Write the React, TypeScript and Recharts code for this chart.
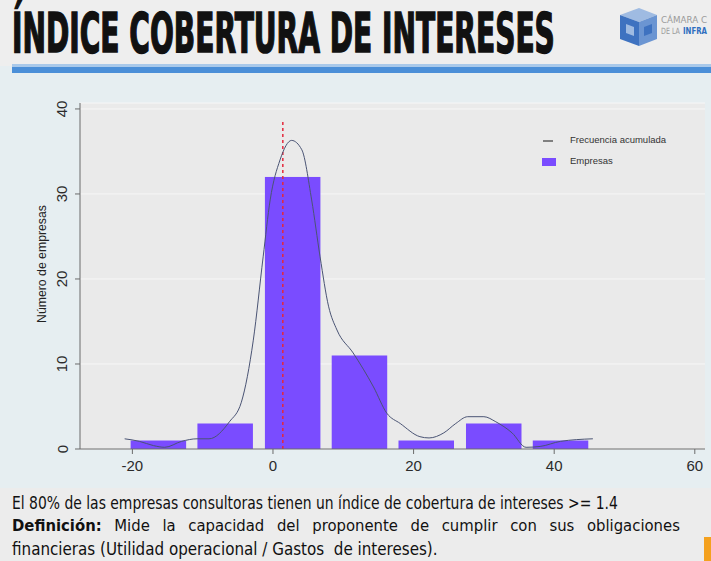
import React, { useLayoutEffect, useRef, useState } from 'react';
import {
  ComposedChart,
  Bar,
  Line,
  XAxis,
  YAxis,
  CartesianGrid,
  ReferenceLine,
  Legend,
} from 'recharts';

// histogram bins (centre of each bin) and number of companies
const binCenters = [-16.3, -6.8, 2.8, 12.3, 21.8, 31.4, 40.9];
const binCounts = [1, 3, 32, 11, 1, 3, 1];

// smoothed curve ("Frecuencia acumulada")
const curveX = [-21.1, -19, -17, -15.4, -13, -10.8, -9.1, -6.2, -4.5, -2.8, -1.4, -0.4, 1.0, 2.65, 4.1, 5.5, 6.7, 7.9, 9.1, 11.4, 14.3, 16.2, 18.1, 20.9, 22.2, 24.3, 26, 27.7, 30, 31.7, 34, 36, 38, 40.9, 45.5];
const curveY = [1.2, 0.9, 0.4, 0.2, 0.9, 1.2, 1.2, 3.2, 5.5, 12.8, 22.6, 29.3, 34, 36.3, 35.2, 29.3, 22.6, 16.8, 14, 11.3, 7.3, 4.2, 3.0, 1.45, 1.3, 1.9, 3.0, 3.8, 3.8, 3.2, 1.9, 0.2, 0.3, 0.9, 1.2];

const threshold = 1.4;
const xTicks = [-20, 0, 20, 40, 60];
const yTicks = [0, 10, 20, 30, 40];

const barData = binCenters.map((x, i) => ({ x, count: binCounts[i] }));
const curveData = curveX.map((x, i) => ({ x, freq: curveY[i] }));

const BAR_COLOR = '#7a4cff';
const BAR_WIDTH = 55.5;
const LINE_COLOR = '#4a5474';
const AXIS_COLOR = '#6b6b6b';
const FONT = 'Liberation Sans, Arial, sans-serif';
const NARROW = 'Liberation Sans Narrow, DejaVu Sans Condensed, sans-serif';
const BODY = 'DejaVu Sans Condensed, DejaVu Sans, sans-serif';

// svg text squeezed/stretched horizontally to a given width (slide fonts are condensed)
const FitText = ({ x, y, width, rotate = 0, children, ...rest }: any) => {
  const ref = useRef<SVGTextElement>(null);
  const [sx, setSx] = useState(1);
  useLayoutEffect(() => {
    if (ref.current) {
      const w = ref.current.getComputedTextLength();
      if (w > 0) setSx(width / w);
    }
  }, [width]);
  return (
    <text ref={ref} x={0} y={0} transform={`translate(${x},${y}) rotate(${rotate}) scale(${sx},1)`} {...rest}>
      {children}
    </text>
  );
};

// bars keep the histogram width, centred on the bin the library placed them at
const HistBar = (props: any) => {
  const { x, y, width, height, fill } = props;
  const cx = x + width / 2;
  return <rect x={cx - BAR_WIDTH / 2} y={y} width={BAR_WIDTH} height={height} fill={fill} />;
};

const XTick = ({ x, y, payload }: any) => (
  <text x={x} y={y + 9} textAnchor="middle" dominantBaseline="central" fontSize={15} fill="#2b2b2b" fontFamily={FONT}>
    {payload.value}
  </text>
);

const YTick = ({ y, payload }: any) => (
  <text x={62} y={y} textAnchor="middle" dominantBaseline="central" fontSize={15} fill="#2b2b2b" fontFamily={FONT} transform={`rotate(-90, 62, ${y})`}>
    {payload.value}
  </text>
);

const renderLegend = () => (
  <div style={{ position: 'relative', width: 140, height: 40, fontFamily: FONT, fontSize: 9.5, color: '#333' }}>
    <div style={{ position: 'absolute', left: 3, top: 9, width: 10, height: 1.5, background: '#808080' }} />
    <div style={{ position: 'absolute', left: 30, top: 3, whiteSpace: 'nowrap' }}>Frecuencia acumulada</div>
    <div style={{ position: 'absolute', left: 2, top: 27, width: 14, height: 8, background: BAR_COLOR }} />
    <div style={{ position: 'absolute', left: 30, top: 24, whiteSpace: 'nowrap' }}>Empresas</div>
  </div>
);

const line2 = ['Mide', 'la', 'capacidad', 'del', 'proponente', 'de', 'cumplir', 'con', 'sus', 'obligaciones'];

export default function App() {
  return (
    <div style={{ position: 'absolute', left: 0, top: 0, width: 711, height: 561, overflow: 'hidden', background: '#e6eef1' }}>
      {/* header */}
      <div style={{ position: 'absolute', left: 0, top: 0, width: 711, height: 66, background: '#eeeeee' }} />
      <div style={{ position: 'absolute', left: 12, top: 64, width: 699, height: 3, background: '#a9c9ea' }} />
      <div style={{ position: 'absolute', left: 12, top: 67, width: 699, height: 6, background: '#4b8fd8' }} />
      <div style={{ position: 'absolute', left: 0, top: 488, width: 711, height: 73, background: '#ececec' }} />
      <div style={{ position: 'absolute', left: 704, top: 537, width: 7, height: 24, background: '#f4a11e' }} />

      <svg width={711} height={66} style={{ position: 'absolute', left: 0, top: 0 }}>
        <FitText x={12} y={52} width={543} fontSize={56} fontWeight={700} fill="#111" stroke="#111" strokeWidth={1.6} fontFamily={NARROW}>
          ÍNDICE COBERTURA DE INTERESES
        </FitText>
        <polygon points="620,15 639,8 657,15 639,22" fill="#9fbbe2" />
        <polygon points="620,15 639,22 639,46 620,39" fill="#3e72c0" />
        <polygon points="639,22 657,15 657,39 639,46" fill="#6b95d2" />
        <polygon points="626,24 634,27 634,36 626,33" fill="#9fbbe2" />
        <polygon points="644,27 652,24 652,33 644,36" fill="#3e72c0" />
        <FitText x={661} y={23} width={46} fontSize={8.5} fill="#9a9a9a" fontFamily={NARROW}>
          CÁMARA C
        </FitText>
        <FitText x={661} y={34} width={19} fontSize={8.5} fill="#9a9a9a" fontFamily={NARROW}>
          DE LA
        </FitText>
        <FitText x={683} y={34} width={24} fontSize={8.5} fontWeight={700} fill="#2f6fc0" fontFamily={NARROW}>
          INFRA
        </FitText>
      </svg>

      {/* y axis title */}
      <svg width={60} height={561} style={{ position: 'absolute', left: 0, top: 0 }}>
        <FitText x={42} y={264} width={118} rotate={-90} textAnchor="middle" dominantBaseline="central" fontSize={13} fill="#222" fontFamily={FONT}>
          Número de empresas
        </FitText>
      </svg>

      <div style={{ position: 'absolute', left: 0, top: 0 }}>
        <ComposedChart width={711} height={561} data={barData} margin={{ top: 103, right: 6, bottom: 82, left: 40 }}>
          <CartesianGrid vertical={false} stroke="#f7f7f7" fill="#eaeaea" />
          <XAxis
            dataKey="x"
            type="number"
            domain={[-27.45, 61.45]}
            allowDataOverflow
            ticks={xTicks}
            height={30}
            stroke={AXIS_COLOR}
            tickSize={5}
            tickMargin={2}
            tick={<XTick />}
          />
          <YAxis
            type="number"
            domain={[0, 40.7]}
            allowDataOverflow
            ticks={yTicks}
            width={40}
            stroke={AXIS_COLOR}
            tickSize={5}
            tick={<YTick />}
          />
          <Legend layout="horizontal" verticalAlign="middle" align="center" content={renderLegend} wrapperStyle={{ position: 'absolute', left: 540, top: 131, width: 140, height: 40 }} />
          <Bar dataKey="count" name="Empresas" fill={BAR_COLOR} shape={<HistBar />} isAnimationActive={false} />
          <ReferenceLine segment={[{ x: threshold, y: 0 }, { x: threshold, y: 38.5 }]} stroke="#e4283c" strokeDasharray="3 3" strokeWidth={1.5} />
          <Line data={curveData} dataKey="freq" name="Frecuencia acumulada" type="monotone" stroke={LINE_COLOR} strokeWidth={1} dot={false} isAnimationActive={false} />
        </ComposedChart>
      </div>

      {/* footer text */}
      <svg width={711} height={73} style={{ position: 'absolute', left: 0, top: 488 }}>
        <FitText x={12} y={21} width={606} fontSize={17} fill="#111" fontFamily={BODY}>
          El 80% de las empresas consultoras tienen un índice de cobertura de intereses &gt;= 1.4
        </FitText>
        <FitText x={12} y={67} width={426} fontSize={17} fill="#111" fontFamily={BODY} style={{ whiteSpace: 'pre' }}>
          {'financieras (Utilidad operacional / Gastos  de intereses).'}
        </FitText>
      </svg>
      <div
        style={{
          position: 'absolute',
          left: 12,
          top: 516,
          width: 668,
          display: 'flex',
          justifyContent: 'space-between',
          fontFamily: BODY,
          fontSize: 16.5,
          color: '#111',
          whiteSpace: 'nowrap',
        }}
      >
        <span style={{ fontWeight: 700 }}>Definición:</span>
        {line2.map((w, i) => (
          <span key={i}>{w}</span>
        ))}
      </div>
    </div>
  );
}
